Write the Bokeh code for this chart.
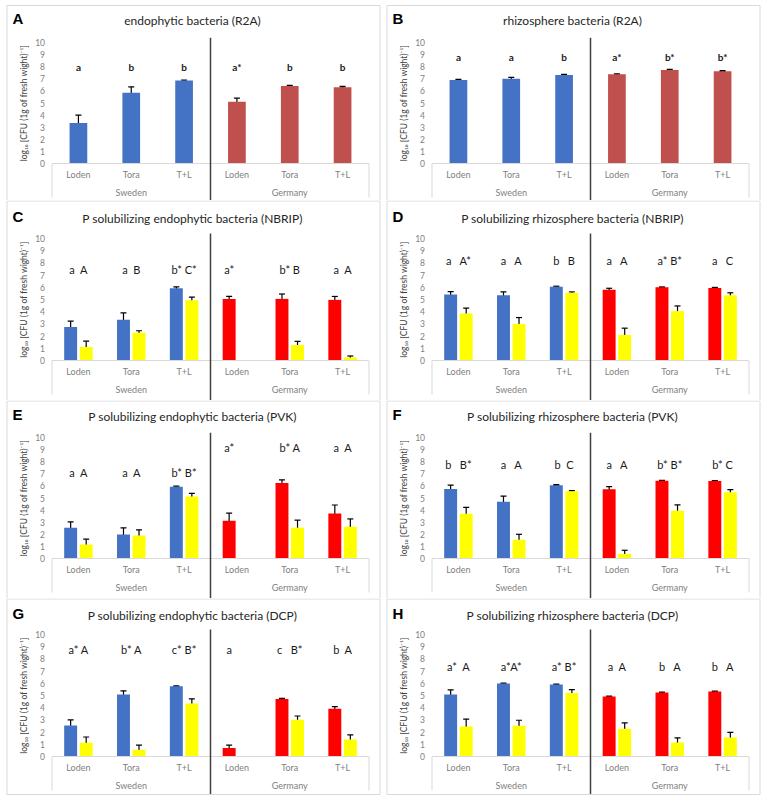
import numpy as np
from bokeh.plotting import figure
from bokeh.models import (ColumnDataSource, Whisker, TeeHead, LinearAxis,
                          FixedTicker, Range1d)
from bokeh.layouts import gridplot
from bokeh.core.properties import value
from bokeh.embed import file_html
from bokeh.resources import INLINE

# ---------------- data ----------------
countries = ["Sweden", "Germany"]
cultivars = ["Loden", "Tora", "T+L"]
y_ticks = [0, 1, 2, 3, 4, 5, 6, 7, 8, 9, 10]
y_label = "log\u2081\u2080 [CFU (1g of fresh wight)\u207b\u00b9]"

A_title = "endophytic bacteria (R2A)"
A_main = [3.35, 5.85, 6.85, 5.1, 6.4, 6.3]
A_main_err = [0.65, 0.48, 0.05, 0.3, 0.05, 0.07]
A_letters = ["a", "b", "b", "a*", "b", "b"]

B_title = "rhizosphere bacteria (R2A)"
B_main = [6.9, 7.0, 7.32, 7.37, 7.73, 7.63]
B_main_err = [0.05, 0.12, 0.05, 0.04, 0.05, 0.04]
B_letters = ["a", "a", "b", "a*", "b*", "b*"]

C_title = "P solubilizing endophytic bacteria (NBRIP)"
C_main = [2.75, 3.35, 5.92, 5.05, 5.05, 4.97]
C_main_err = [0.47, 0.55, 0.12, 0.2, 0.4, 0.28]
C_yel = [1.1, 2.27, 4.93, None, 1.27, 0.25]
C_yel_err = [0.48, 0.17, 0.27, None, 0.3, 0.12]
C_letters = ["a  A", "a  B", "b* C*", "a*", "b* B", "a  A"]

D_title = "P solubilizing rhizosphere bacteria (NBRIP)"
D_main = [5.4, 5.34, 6.05, 5.8, 6.0, 5.95]
D_main_err = [0.25, 0.28, 0.04, 0.12, 0.03, 0.04]
D_yel = [3.85, 3.0, 5.55, 2.1, 4.05, 5.35]
D_yel_err = [0.45, 0.52, 0.07, 0.55, 0.42, 0.2]
D_letters = ["a   A*", "a   A", "b   B", "a   A", "a* B*", "a   C"]

E_title = "P solubilizing endophytic bacteria (PVK)"
E_main = [2.55, 1.98, 5.93, 3.12, 6.25, 3.72]
E_main_err = [0.48, 0.55, 0.05, 0.63, 0.25, 0.7]
E_yel = [1.15, 1.9, 5.12, None, 2.55, 2.62]
E_yel_err = [0.45, 0.47, 0.27, None, 0.62, 0.65]
E_letters = ["a  A", "a  A", "b* B*", "a*", "b* A", "a  A"]

F_title = "P solubilizing rhizosphere bacteria (PVK)"
F_main = [5.75, 4.68, 6.06, 5.72, 6.43, 6.4]
F_main_err = [0.32, 0.48, 0.04, 0.22, 0.03, 0.03]
F_yel = [3.7, 1.55, 5.55, 0.38, 3.95, 5.48]
F_yel_err = [0.52, 0.45, 0.07, 0.3, 0.48, 0.22]
F_letters = ["b   B*", "a   A", "b  C", "a   A", "b* B*", "b* C"]

G_title = "P solubilizing endophytic bacteria (DCP)"
G_main = [2.55, 5.08, 5.75, 0.7, 4.72, 3.92]
G_main_err = [0.45, 0.3, 0.04, 0.23, 0.04, 0.17]
G_yel = [1.13, 0.55, 4.35, None, 3.02, 1.4]
G_yel_err = [0.47, 0.38, 0.38, None, 0.3, 0.37]
G_letters = ["a* A", "b* A", "c* B*", "a", "c   B*", "b  A"]

H_title = "P solubilizing rhizosphere bacteria (DCP)"
H_main = [5.08, 5.98, 5.9, 4.92, 5.24, 5.33]
H_main_err = [0.38, 0.04, 0.03, 0.03, 0.04, 0.03]
H_yel = [2.45, 2.52, 5.2, 2.27, 1.15, 1.55]
H_yel_err = [0.62, 0.45, 0.28, 0.48, 0.37, 0.43]
H_letters = ["a*  A", "a*A*", "a* B*", "a  A", "b   A", "b   A"]

# ---------------- style / layout ----------------
BLUE = "#4472C4"
DARK_RED = "#C0504D"
RED = "#FF0000"
YELLOW = "#FFFF00"
BORDER = "#d9d9d9"
FONT = "Lato"

COL_W = [383, 384]          # canvas widths
COL_BX = [6, 3]             # panel box left edge inside canvas
BOX_W = 374
ROW_H = [200, 200, 198, 200]
ROW_BY = [5, 0.5, 0.5, 0.5]  # box top inside canvas
ROW_Y10 = [42, 38, 37, 36]   # canvas y of value 10
ROW_Y0 = [163, 160, 158, 158]  # canvas y of value 0
ROW_TITLE = [20, 18, 16, 17]
FRAME_L, FRAME_R = 45.5, 362.5  # table left/right relative to box left
TITLE_CX = 186
YLABEL_CX = 17


def nbsp(s):
    return s.replace(" ", "\u00a0")


def make_panel(row, col, letter, title, main, main_err, yel, yel_err, letters,
               letter_h, germ_color, letter_style):
    n = len(cultivars) * len(countries)
    W, H = COL_W[col], ROW_H[row]
    bx, by = COL_BX[col], ROW_BY[row]
    ppx = (FRAME_R - FRAME_L) / n
    ppu = (ROW_Y0[row] - ROW_Y10[row]) / 10.0
    x0px = bx + FRAME_L
    y0px = ROW_Y0[row]
    last = row == len(ROW_H) - 1

    def dx(cx):
        return (cx - x0px) / ppx

    def dy(cy):
        return (y0px - cy) / ppu

    p = figure(width=W, height=H, output_backend="svg", toolbar_location=None,
               x_range=Range1d(dx(0), dx(W)), y_range=Range1d(dy(H), dy(0)),
               x_axis_location=None, y_axis_location=None,
               min_border=0, min_border_left=0, min_border_right=0,
               min_border_top=0, min_border_bottom=0)
    p.grid.visible = False
    p.outline_line_color = None

    yax = LinearAxis(fixed_location=0, bounds=(0, 10),
                     ticker=FixedTicker(ticks=y_ticks))
    yax.axis_line_color = None
    yax.major_tick_line_color = None
    yax.minor_tick_line_color = None
    yax.major_tick_out = 0
    yax.major_tick_in = 0
    yax.major_label_standoff = 7
    yax.major_label_text_color = "#808080"
    yax.major_label_text_font = FONT
    yax.major_label_text_font_size = "8.5px"
    p.add_layout(yax, "left")

    xs = np.arange(n) + 0.5
    two = yel is not None
    bw = 0.245 if two else 0.335
    off = 0.147 if two else 0.0
    colors = [BLUE] * len(cultivars) + [germ_color] * len(cultivars)

    m = np.array(main, dtype=float)
    me = np.array(main_err, dtype=float)
    src = ColumnDataSource(dict(x=xs - off, top=m, color=colors,
                                lower=m - me, upper=m + me))
    p.vbar(x="x", top="top", width=bw, bottom=0, fill_color="color",
           line_color=None, source=src)
    head = dict(size=6, line_color="black", line_width=1.2)
    p.add_layout(Whisker(base="x", lower="lower", upper="upper", source=src,
                         line_color="black", line_width=1.2,
                         upper_head=TeeHead(**head), lower_head=TeeHead(**head)))

    letter_x = list(xs)
    if two:
        idx = [i for i in range(n) if yel[i] is not None]
        yv = np.array([yel[i] for i in idx], dtype=float)
        ye = np.array([yel_err[i] for i in idx], dtype=float)
        ysrc = ColumnDataSource(dict(x=xs[idx] + off, top=yv,
                                     lower=yv - ye, upper=yv + ye))
        p.vbar(x="x", top="top", width=bw, bottom=0, fill_color=YELLOW,
               line_color=None, source=ysrc)
        p.add_layout(Whisker(base="x", lower="lower", upper="upper", source=ysrc,
                             line_color="black", line_width=1.2,
                             upper_head=TeeHead(**head), lower_head=TeeHead(**head)))
        letter_x = [xs[i] - off if yel[i] is None else xs[i] for i in range(n)]

    # significance letters
    ly = [letter_h[0]] * len(cultivars) + [letter_h[1]] * len(cultivars)
    p.text(x=letter_x, y=ly, text=[nbsp(t) for t in letters], text_align="center",
           text_baseline="middle", text_color="#1a1a1a",
           text_font=value(FONT), text_font_size=letter_style[0],
           text_font_style=letter_style[1])

    # y axis title
    p.text(x=[dx(bx + YLABEL_CX)], y=[5], text=[y_label], angle=np.pi / 2,
           text_align="center", text_baseline="middle", text_color="#404040",
           text_font=value(FONT), text_font_size="8.5px")

    # category table below the bars
    tb = dy(y0px + 34)
    box_bottom = dy(by + 195.5) if last else dy(H)
    p.segment(x0=[0, 0, n], y0=[0, 0, 0], x1=[n, 0, n], y1=[0, tb, tb],
              line_color=BORDER, line_width=1)
    p.segment(x0=[n / 2], y0=[10.4], x1=[n / 2], y1=[box_bottom],
              line_color="#404040", line_width=1.5)
    p.text(x=xs, y=[dy(y0px + 11)] * n, text=cultivars * len(countries),
           text_align="center", text_baseline="middle", text_color="#808080",
           text_font=value(FONT), text_font_size="9px")
    p.text(x=[n / 4, 3 * n / 4], y=[dy(y0px + 29)] * 2, text=countries,
           text_align="center", text_baseline="middle", text_color="#808080",
           text_font=value(FONT), text_font_size="9px")

    # panel box (bottom edge only on the last row)
    left, right = dx(bx + 0.5), dx(bx + BOX_W - 0.5)
    top = dy(by)
    xs0 = [left, left, right]
    ys0 = [top, top, top]
    xs1 = [right, left, right]
    ys1 = [top, box_bottom, box_bottom]
    if last:
        xs0.append(left); ys0.append(box_bottom); xs1.append(right); ys1.append(box_bottom)
    p.segment(x0=xs0, y0=ys0, x1=xs1, y1=ys1, line_color=BORDER, line_width=1)

    # panel letter and title
    ty = ROW_TITLE[row]
    p.text(x=[dx(bx + 6)], y=[dy(ty - 2)], text=[letter], text_align="left",
           text_baseline="middle", text_color="black",
           text_font=value("Liberation Sans"), text_font_style="bold",
           text_font_size="15px")
    p.text(x=[dx(bx + TITLE_CX)], y=[dy(ty)], text=[title], text_align="center",
           text_baseline="middle", text_color="#262626",
           text_font=value(FONT), text_font_size="12px")
    return p


small = ("10px", "bold")
big = ("11px", "normal")
pA = make_panel(0, 0, "A", A_title, A_main, A_main_err, None, None, A_letters, [8.0, 8.0], DARK_RED, small)
pB = make_panel(0, 1, "B", B_title, B_main, B_main_err, None, None, B_letters, [8.8, 8.8], DARK_RED, small)
pC = make_panel(1, 0, "C", C_title, C_main, C_main_err, C_yel, C_yel_err, C_letters, [7.5, 7.5], RED, big)
pD = make_panel(1, 1, "D", D_title, D_main, D_main_err, D_yel, D_yel_err, D_letters, [8.2, 8.2], RED, big)
pE = make_panel(2, 0, "E", E_title, E_main, E_main_err, E_yel, E_yel_err, E_letters, [7.1, 9.2], RED, big)
pF = make_panel(2, 1, "F", F_title, F_main, F_main_err, F_yel, F_yel_err, F_letters, [7.8, 7.8], RED, big)
pG = make_panel(3, 0, "G", G_title, G_main, G_main_err, G_yel, G_yel_err, G_letters, [8.8, 8.8], RED, big)
pH = make_panel(3, 1, "H", H_title, H_main, H_main_err, H_yel, H_yel_err, H_letters, [7.4, 7.4], RED, big)

grid = gridplot([[pA, pB], [pC, pD], [pE, pF], [pG, pH]], toolbar_location=None)
grid.spacing = 0

open("out.html", "w").write(file_html(grid, INLINE))
